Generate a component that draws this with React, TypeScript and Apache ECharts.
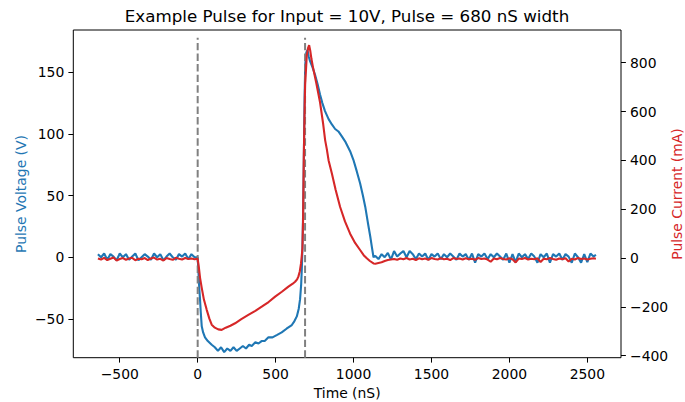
import React, { useEffect, useRef } from "react";
import * as echarts from "echarts";

// ---- Data ----
const preTime = [-640, -620, -600, -580, -560, -540, -520, -500, -480, -460, -440, -420, -400, -380, -360, -340, -320, -300, -280, -260, -240, -220, -200, -180, -160, -140, -120, -100, -80, -60, -40, -20];
const preVoltage = [2.5, 0, 3, -2, 2.5, 0.5, -2.5, 3, 0, 2.5, -2, 0.5, 3, -2.5, 0, 2.5, 0.5, -2, 3, 0, 2.5, -2.5, 0.5, 3, 0, -2, 2.5, 0.5, 3, -1.5, 2.5, 0];
const preCurrent = [-2, -6, 1, -8, -3, 2, -10, -4, 0, -7, -2, 1, -9, -3, -5, 0, -8, -2, 2, -6, -3, -10, 0, -4, -7, 1, -3, -6, 0, -4, -2, -5];

const pulseVoltageTime = [0, 5, 10, 15, 20, 26, 35, 47, 65, 90, 110, 130, 150, 170, 190, 210, 230, 250, 270, 290, 310, 330, 347, 370, 390, 410, 430, 454, 480, 510, 539, 570, 604, 620, 636, 648, 657, 664, 668, 672, 677, 682, 686, 690, 697, 705, 712, 721, 737, 753, 770, 785, 800, 817, 840, 861, 882, 903, 925, 946, 962, 978, 999, 1020, 1042, 1060, 1075, 1092, 1107, 1118, 1128];
const pulseVoltage = [0, -12, -25, -34, -45, -56, -61, -65, -68, -71, -73, -76, -73, -77, -74, -76, -73, -76, -74, -72, -74, -71, -72, -69, -70, -68, -68, -65, -65, -63, -61, -58, -55, -52, -48, -42, -34, -22, -10, 6, 40, 90, 130, 156, 166, 168, 163, 159, 154, 148, 140, 132, 125, 118.5, 112, 107.7, 104, 102, 98, 94, 90, 86, 79, 70, 60, 50, 41, 28, 17, 8, 0];

const pulseCurrentTime = [0, 8, 15, 26, 40, 58, 75, 90, 110, 132, 154, 180, 210, 240, 280, 325, 370, 411, 455, 497, 540, 582, 610, 625, 638, 646, 655, 663, 668, 672, 676, 681, 685, 689, 700, 708, 715, 722, 730, 742, 760, 785, 805, 818, 828, 840, 861, 885, 914, 945, 978, 1010, 1042, 1065, 1085, 1105, 1128];
const pulseCurrent = [-3, -40, -80, -122, -170, -212, -248, -273, -285, -292, -294, -285, -277, -267, -250, -233, -216, -199, -180, -158, -138, -117, -105, -97, -87, -76, -55, -22, 10, 40, 150, 420, 570, 705, 829, 860, 872, 850, 815, 774, 720, 638, 550, 482, 448, 400, 346, 280, 209, 150, 100, 62, 33, 12, -1, -12, -22];

const postTime = [1140, 1160, 1180, 1200, 1220, 1240, 1260, 1280, 1300, 1320, 1340, 1360, 1380, 1400, 1420, 1440, 1460, 1480, 1500, 1520, 1540, 1560, 1580, 1600, 1620, 1640, 1660, 1680, 1700, 1720, 1740, 1760, 1780, 1800, 1820, 1840, 1860, 1880, 1900, 1920, 1940, 1960, 1980, 2000, 2020, 2040, 2060, 2080, 2100, 2120, 2140, 2160, 2180, 2200, 2220, 2240, 2260, 2280, 2300, 2320, 2340, 2360, 2380, 2400, 2420, 2440, 2460, 2480, 2500, 2520, 2540, 2555];
const postVoltage = [1, -1.5, 2.5, 0, 3.5, -2, 5, 0.5, 3, 5, 0, 5, 2.5, -1.5, 3, 0.5, 3, -2, 2.5, 0.5, 3, -1.5, 2.5, 0, 3, 0.5, -2, 3, 0.5, 2.5, -2, 3, -4.5, 2.5, 0.5, 3, -1.5, 2.5, 0, 3, 0.5, -2, 3, -4.5, 2.5, -4, 3, 0, 2.5, -1.5, 3, 0.5, -4.5, 2.5, 0, 3, -4.5, 2.5, 0.5, 3, -2, 2.5, 0.5, -4.5, 3, 0, -4.5, 2.5, -4, 3, 0.5, 2];
const postCurrent = [-23, -20, -17, -12, -8, -6, -4, -7, -2, -5, 0, -6, -3, -8, -1, -5, -2, -7, 0, -4, -6, -1, -5, -3, -8, 0, -4, -2, -6, -1, -5, -3, -7, 0, -4, -2, -6, -15, -2, -5, 0, -4, -6, -1, -5, -18, -2, -4, 0, -6, -3, -5, -1, -16, -3, -5, 0, -4, -7, -2, -5, -1, -14, -3, -6, 0, -4, -2, -6, -3, -1, -3];

const markerTimes = [0, 689];
const markerSpan = [-81.5, 178];

const xTicks = [-500, 0, 500, 1000, 1500, 2000, 2500];
const leftTicks = [-50, 0, 50, 100, 150];
const rightTicks = [-400, -200, 0, 200, 400, 600, 800];

const FONT = "DejaVu Sans";
const BLUE = "#1f77b4";
const RED = "#d62728";

const zip = (t: number[], v: number[]) => t.map((x, i) => [x, v[i]]);
const fmt = (v: number) => String(v).replace("-", "\u2212");

export default function App() {
  const ref = useRef<HTMLDivElement>(null);
  useEffect(() => {
    if (!ref.current) return;
    const chart = echarts.init(ref.current, null, { renderer: "svg" });
    const voltage = [...zip(preTime, preVoltage), ...zip(pulseVoltageTime, pulseVoltage), ...zip(postTime, postVoltage)];
    const current = [...zip(preTime, preCurrent), ...zip(pulseCurrentTime, pulseCurrent), ...zip(postTime, postCurrent)];
    const tick = { show: true, length: 4.9, inside: false, lineStyle: { color: "#000", width: 1 } };
    const label = { color: "#000", fontFamily: FONT, fontSize: 13.9, margin: 9, formatter: fmt };
    const line = { show: false, onZero: false };
    const axisTitle = (text: string, x: number, color: string) => ({
      type: "text",
      x,
      y: 194,
      rotation: Math.PI / 2,
      style: { text, font: `13.9px "${FONT}"`, fill: color, align: "center", verticalAlign: "middle" },
    });
    chart.setOption({
      animation: false,
      backgroundColor: "#fff",
      grid: {
        left: 73.3,
        right: 64,
        top: 30,
        bottom: 44.3,
        show: true,
        borderColor: "#000",
        borderWidth: 1,
        backgroundColor: "transparent",
        containLabel: false,
        outerBoundsMode: "none",
      },
      graphic: [
        {
          type: "text",
          x: 347,
          y: 15.5,
          style: { text: "Example Pulse for Input = 10V, Pulse = 680 nS width", font: `16.7px "${FONT}"`, fill: "#000", align: "center", verticalAlign: "middle" },
        },
        axisTitle("Pulse Voltage (V)", 21, BLUE),
        axisTitle("Pulse Current (mA)", 676.5, RED),
      ],
      xAxis: {
        type: "value",
        min: -798,
        max: 2716,
        axisLine: line,
        splitLine: { show: false },
        axisTick: { ...tick, customValues: xTicks },
        axisLabel: { ...label, customValues: xTicks },
        name: "Time (nS)",
        nameLocation: "middle",
        nameGap: 27,
        nameTextStyle: { color: "#000", fontFamily: FONT, fontSize: 13.9 },
      },
      yAxis: [
        {
          type: "value",
          min: -81.5,
          max: 184.3,
          position: "left",
          axisLine: line,
          splitLine: { show: false },
          axisTick: { ...tick, customValues: leftTicks },
          axisLabel: { ...label, customValues: leftTicks },
        },
        {
          type: "value",
          min: -408,
          max: 934,
          position: "right",
          axisLine: line,
          splitLine: { show: false },
          axisTick: { ...tick, customValues: rightTicks },
          axisLabel: { ...label, customValues: rightTicks },
        },
      ],
      series: [
        {
          type: "line",
          yAxisIndex: 0,
          data: voltage,
          showSymbol: false,
          lineStyle: { color: BLUE, width: 2.1 },
          itemStyle: { color: BLUE },
        },
        ...markerTimes.map((t) => ({
          type: "line",
          yAxisIndex: 0,
          data: markerSpan.map((y) => [t, y]),
          showSymbol: false,
          lineStyle: { color: "#808080", width: 2, type: [7.4, 3.2] },
        })),
        {
          type: "line",
          yAxisIndex: 1,
          data: current,
          showSymbol: false,
          lineStyle: { color: RED, width: 2.1 },
          itemStyle: { color: RED },
        },
      ],
    });
    return () => chart.dispose();
  }, []);
  return <div ref={ref} style={{ position: "absolute", left: 0, top: 0, width: 685, height: 402 }} />;
}
